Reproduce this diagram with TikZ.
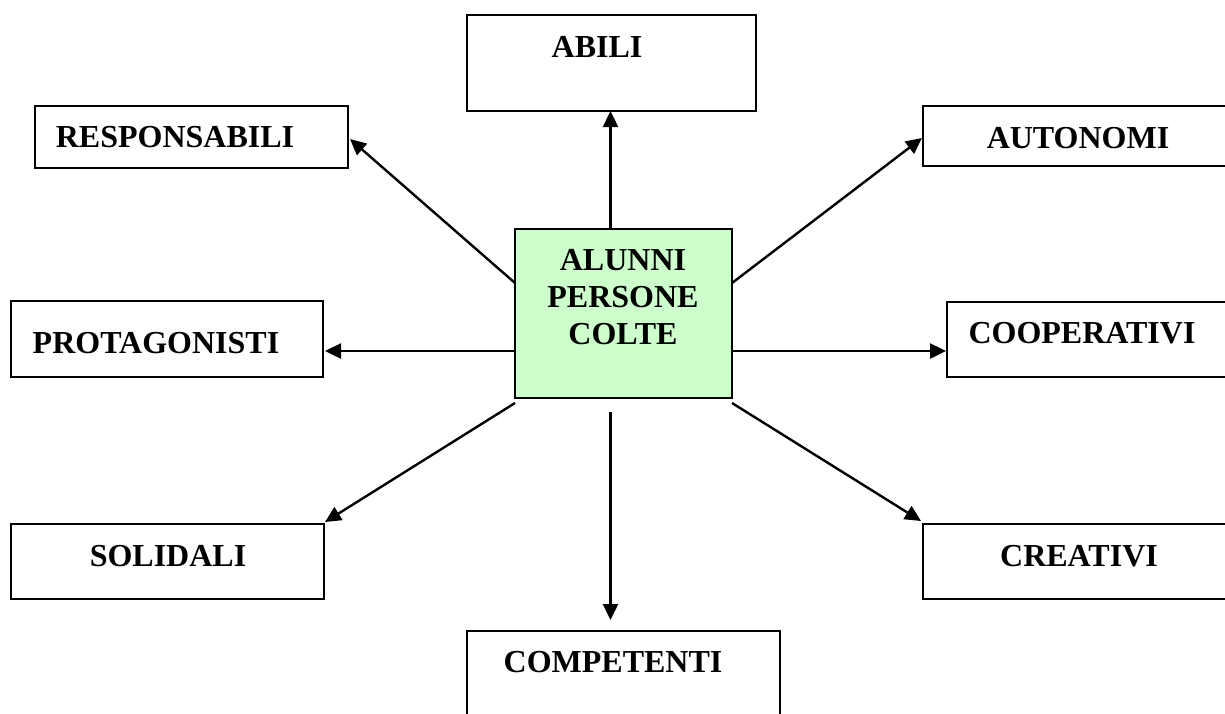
\documentclass[tikz,border=0pt]{standalone}
\usepackage{fontspec}
\setmainfont{Liberation Serif}
\usetikzlibrary{arrows.meta}
\definecolor{hubgreen}{HTML}{CCFFCC}
\tikzset{
  box/.style={draw=black, line width=1.8pt, rectangle, inner sep=0pt, outer sep=0pt, anchor=north west},
  lbl/.style={anchor=base, inner sep=0pt, font=\fontsize{32}{37}\selectfont\bfseries},
  arr/.style={line width=2.4pt, -{Triangle[length=16pt,width=15pt]}},
}
\begin{document}
\begin{tikzpicture}[x=1pt,y=-1pt]
\useasboundingbox (0,0) rectangle (1225,713);
\clip (0,0) rectangle (1225,713);
\fill[white] (0,0) rectangle (1225,713);

% central box
\node[box, fill=hubgreen, minimum width=217pt, minimum height=169pt] (hub) at (515,229) {};
\node[lbl, align=center] (hubtxt) at (623,344) {ALUNNI\\PERSONE\\COLTE};

% surrounding boxes
\node[box, minimum width=289pt, minimum height=96pt] (abili) at (467,15) {};
\node[box, minimum width=313pt, minimum height=62pt] (resp) at (35,106) {};
\node[box, minimum width=340pt, minimum height=60pt] (auto) at (923,106) {};
\node[box, minimum width=312pt, minimum height=76pt] (prot) at (11,301) {};
\node[box, minimum width=320pt, minimum height=75pt] (coop) at (947,302) {};
\node[box, minimum width=313pt, minimum height=75pt] (soli) at (11,524) {};
\node[box, minimum width=340pt, minimum height=75pt] (crea) at (923,524) {};
\node[box, minimum width=313pt, minimum height=130pt] (comp) at (467,631) {};

% labels
\node[lbl] (abilit) at (597,57) {ABILI};
\node[lbl] (respt) at (175,147) {RESPONSABILI};
\node[lbl] (autot) at (1078,148) {AUTONOMI};
\node[lbl] (prott) at (156,353) {PROTAGONISTI};
\node[lbl] (coopt) at (1082,343) {COOPERATIVI};
\node[lbl] (solit) at (168,566) {SOLIDALI};
\node[lbl] (creat) at (1079,566) {CREATIVI};
\node[lbl] (compt) at (613,672) {COMPETENTI};

% connector end points on the hub
\coordinate (cw) at ([yshift=-122pt]hub.north west);
\coordinate (ce) at ([yshift=-122pt]hub.north east);
\coordinate (up) at ([xshift=-13pt]hub.north);
\coordinate (dn) at ([shift={(-13pt,-14pt)}]hub.south);

% connectors
\draw[arr] (up) -- (up |- abili.south);
\draw[arr] ([yshift=-54pt]hub.north west) -- ([shift={(2pt,-2pt)}]resp.east);
\draw[arr] ([yshift=-54pt]hub.north east) -- ([shift={(-1pt,-2pt)}]auto.west);
\draw[arr] (cw) -- ([xshift=2pt]cw -| prot.east);
\draw[arr] (ce) -- ([xshift=-1pt]ce -| coop.west);
\draw[arr] ([yshift=-5pt]hub.south west) -- ([shift={(1pt,2pt)}]soli.north east);
\draw[arr, shorten >=11pt] (dn) -- (dn |- comp.north);
\draw[arr] ([yshift=-5pt]hub.south east) -- ([shift={(-2pt,3pt)}]crea.north west);
\end{tikzpicture}
\end{document}
